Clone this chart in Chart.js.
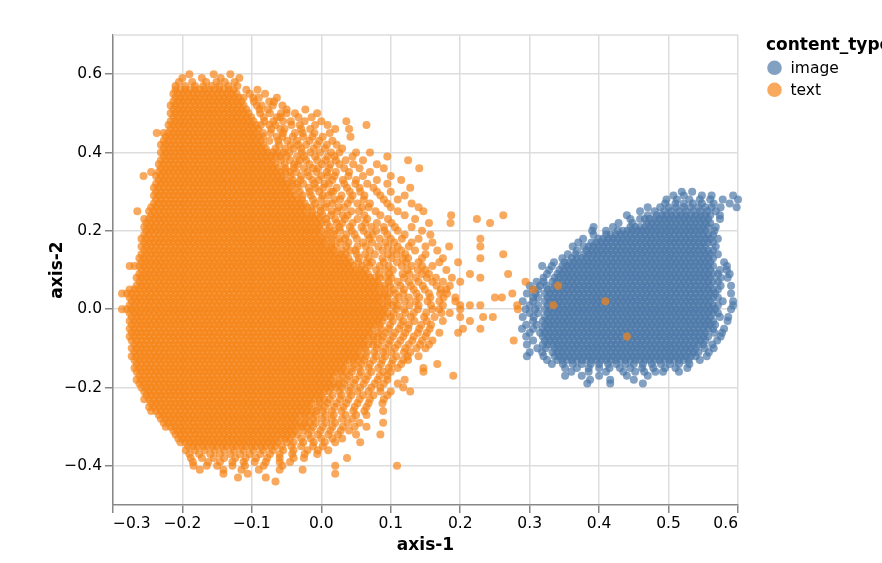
<!DOCTYPE html>
<html>
<head>
<meta charset="utf-8">
<script src="https://cdn.jsdelivr.net/npm/chart.js@4.4.1/dist/chart.umd.min.js"></script>
<style>
  html, body { margin: 0; padding: 0; background: #fff; }
  #chart { display: block; }
</style>
</head>
<body>
<canvas id="chart" width="882" height="563"></canvas>
<script>
// values, in thousandths of an axis unit
// each row: [axis-2, axis-1, axis-1, ...]
const imageRows = [
  [300,519,534],
  [290,507,522,548,562,593],
  [280,497,512,530,545,560,578,600],
  [270,495,510,522,535,548,565,588],
  [260,470,488,500,511,522,532,543,553,562,575,598],
  [250,459,480,494,504,515,525,536,546,556,568],
  [240,440,470,483,490,497,504,511,518,525,532,539,546,553,560,574],
  [230,445,459,466,473,480,487,494,501,508,515,522,529,536,543,550,557,574],
  [220,428,448,469,476,483,490,497,504,511,518,525,532,539,546,553,560],
  [210,392,420,445,452,459,466,473,480,487,494,501,508,515,522,529,536,543,550,557,568],
  [200,390,410,427,434,441,448,455,462,469,476,483,490,497,504,511,518,525,532,539,546,553,566],
  [190,392,410,417,424,431,438,445,452,459,466,473,480,487,494,501,508,515,522,529,536,543,550,557,564],
  [180,377,399,406,413,420,427,434,441,448,455,462,469,476,483,490,497,504,511,518,525,532,539,546,553,560,571],
  [170,370,389,396,403,410,417,424,431,438,445,452,459,466,473,480,487,494,501,508,515,522,529,536,543,550,557,564],
  [160,362,378,385,392,399,406,413,420,427,434,441,448,455,462,469,476,483,490,497,504,511,518,525,532,539,546,553,568],
  [150,368,382,389,396,403,410,417,424,431,438,445,452,459,466,473,480,487,494,501,508,515,522,529,536,543,550,557,564],
  [140,355,366,378,385,392,399,406,413,420,427,434,441,448,455,462,469,476,483,490,497,504,511,518,525,532,539,546,553,560,571],
  [130,347,361,368,375,382,389,396,403,410,417,424,431,438,445,452,459,466,473,480,487,494,501,508,515,522,529,536,543,550,557,564],
  [120,335,350,357,364,371,378,385,392,399,406,413,420,427,434,441,448,455,462,469,476,483,490,497,504,511,518,525,532,539,546,553,560,580],
  [110,318,332,347,354,361,368,375,382,389,396,403,410,417,424,431,438,445,452,459,466,473,480,487,494,501,508,515,522,529,536,543,550,557,564,584],
  [100,328,343,350,357,364,371,378,385,392,399,406,413,420,427,434,441,448,455,462,469,476,483,490,497,504,511,518,525,532,539,546,553,560,574,584],
  [90,325,340,347,354,361,368,375,382,389,396,403,410,417,424,431,438,445,452,459,466,473,480,487,494,501,508,515,522,529,536,543,550,557,564,571,588],
  [80,320,336,343,350,357,364,371,378,385,392,399,406,413,420,427,434,441,448,455,462,469,476,483,490,497,504,511,518,525,532,539,546,553,560,575,585],
  [70,310,320,333,340,347,354,361,368,375,382,389,396,403,410,417,424,431,438,445,452,459,466,473,480,487,494,501,508,515,522,529,536,543,550,557,564,571],
  [60,300,315,324,336,343,350,357,364,371,378,385,392,399,406,413,420,427,434,441,448,455,462,469,476,483,490,497,504,511,518,525,532,539,546,553,560,575,590],
  [50,305,312,326,333,340,347,354,361,368,375,382,389,396,403,410,417,424,431,438,445,452,459,466,473,480,487,494,501,508,515,522,529,536,543,550,557,564,571],
  [40,296,308,322,329,336,343,350,357,364,371,378,385,392,399,406,413,420,427,434,441,448,455,462,469,476,483,490,497,504,511,518,525,532,539,546,553,560,567,590],
  [30,305,312,326,333,340,347,354,361,368,375,382,389,396,403,410,417,424,431,438,445,452,459,466,473,480,487,494,501,508,515,522,529,536,543,550,557,564,571],
  [20,290,305,322,329,336,343,350,357,364,371,378,385,392,399,406,413,420,427,434,441,448,455,462,469,476,483,490,497,504,511,518,525,532,539,546,553,560,578,593],
  [10,300,312,326,333,340,347,354,361,368,375,382,389,396,403,410,417,424,431,438,445,452,459,466,473,480,487,494,501,508,515,522,529,536,543,550,557,564,571,593],
  [0,294,308,322,329,336,343,350,357,364,371,378,385,392,399,406,413,420,427,434,441,448,455,462,469,476,483,490,497,504,511,518,525,532,539,546,553,560,567,590],
  [-10,300,312,326,333,340,347,354,361,368,375,382,389,396,403,410,417,424,431,438,445,452,459,466,473,480,487,494,501,508,515,522,529,536,543,550,557,564,571],
  [-20,290,306,322,329,336,343,350,357,364,371,378,385,392,399,406,413,420,427,434,441,448,455,462,469,476,483,490,497,504,511,518,525,532,539,546,553,560,574,586],
  [-30,305,319,326,333,340,347,354,361,368,375,382,389,396,403,410,417,424,431,438,445,452,459,466,473,480,487,494,501,508,515,522,529,536,543,550,557,564,585],
  [-40,295,310,322,329,336,343,350,357,364,371,378,385,392,399,406,413,420,427,434,441,448,455,462,469,476,483,490,497,504,511,518,525,532,539,546,553,560,567],
  [-50,289,305,319,326,333,340,347,354,361,368,375,382,389,396,403,410,417,424,431,438,445,452,459,466,473,480,487,494,501,508,515,522,529,536,543,550,557,564,580],
  [-60,300,315,322,329,336,343,350,357,364,371,378,385,392,399,406,413,420,427,434,441,448,455,462,469,476,483,490,497,504,511,518,525,532,539,546,553,566,577],
  [-70,295,319,326,333,340,347,354,361,368,375,382,389,396,403,410,417,424,431,438,445,452,459,466,473,480,487,494,501,508,515,522,529,536,543,550,557,575],
  [-80,305,322,329,336,343,350,357,364,371,378,385,392,399,406,413,420,427,434,441,448,455,462,469,476,483,490,497,504,511,518,525,532,539,546,553,570],
  [-90,296,319,326,333,340,347,354,361,368,375,382,389,396,403,410,417,424,431,438,445,452,459,466,473,480,487,494,501,508,515,522,529,536,543,550,563],
  [-100,311,323,336,343,350,357,364,371,378,385,392,399,406,413,420,427,434,441,448,455,462,469,476,483,490,497,504,511,518,525,532,539,552,565],
  [-110,300,318,333,340,347,354,361,368,375,382,389,396,403,410,417,424,431,438,445,452,459,466,473,480,487,494,501,508,515,522,529,536,543,558],
  [-120,296,320,336,343,350,357,364,371,378,385,392,399,406,413,420,427,434,441,448,455,462,469,476,483,490,497,504,511,518,525,532,539,555],
  [-130,325,340,347,354,361,368,375,382,389,396,403,410,417,424,431,438,445,452,459,466,473,480,487,494,501,508,515,522,529,545],
  [-140,332,348,362,375,388,400,413,425,438,450,463,476,489,502,515,530],
  [-150,351,368,385,400,415,430,445,462,478,495,510,527],
  [-160,360,385,410,435,452,465,481,492,515],
  [-170,351,375,400,440,470],
  [-180,387,416,450],
  [-190,383,416,463]
];

const textRows = [
  [600,-190,-155,-131],
  [590,-200,-172,-145,-118],
  [580,-205,-186,-166,-151,-139,-125],
  [570,-210,-196,-182,-170,-158,-147,-134,-121],
  [560,-210,-203,-196,-189,-182,-175,-168,-161,-154,-147,-140,-133,-126,-108,-92],
  [550,-213,-206,-199,-192,-185,-178,-171,-164,-157,-150,-143,-136,-129,-122,-103,-81],
  [540,-210,-203,-196,-189,-182,-175,-168,-161,-154,-147,-140,-133,-126,-119,-112,-98,-90,-64],
  [530,-213,-206,-199,-192,-185,-178,-171,-164,-157,-150,-143,-136,-129,-122,-115,-97,-75,-68],
  [520,-217,-210,-203,-196,-189,-182,-175,-168,-161,-154,-147,-140,-133,-126,-119,-112,-93,-86,-70,-56],
  [510,-213,-206,-199,-192,-185,-178,-171,-164,-157,-150,-143,-136,-129,-122,-115,-108,-89,-77,-50,-23],
  [500,-217,-210,-203,-196,-189,-182,-175,-168,-161,-154,-147,-140,-133,-126,-119,-112,-105,-88,-74,-58,-50,-38,-6],
  [490,-213,-206,-199,-192,-185,-178,-171,-164,-157,-150,-143,-136,-129,-122,-115,-108,-101,-83,-64,-59,-33,-14],
  [480,-217,-210,-203,-196,-189,-182,-175,-168,-161,-154,-147,-140,-133,-126,-119,-112,-105,-98,-82,-69,-55,-44,-24,0,36],
  [470,-220,-213,-206,-199,-192,-185,-178,-171,-164,-157,-150,-143,-136,-129,-122,-115,-108,-101,-94,-87,-75,-66,-43,-31,-9,9,65],
  [460,-217,-210,-203,-196,-189,-182,-175,-168,-161,-154,-147,-140,-133,-126,-119,-112,-105,-98,-91,-72,-59,-53,-29,-16,20,40],
  [450,-237,-227,-220,-213,-206,-199,-192,-185,-178,-171,-164,-157,-150,-143,-136,-129,-122,-115,-108,-101,-94,-84,-73,-55,-38,-27,-10,12],
  [440,-224,-217,-210,-203,-196,-189,-182,-175,-168,-161,-154,-147,-140,-133,-126,-119,-112,-105,-98,-91,-84,-64,-56,-41,-26,-13,2,42],
  [430,-227,-220,-213,-206,-199,-192,-185,-178,-171,-164,-157,-150,-143,-136,-129,-122,-115,-108,-101,-94,-87,-75,-62,-49,-35,-17,-3,16],
  [420,-231,-224,-217,-210,-203,-196,-189,-182,-175,-168,-161,-154,-147,-140,-133,-126,-119,-112,-105,-98,-91,-84,-61,-44,-33,-22,-6,8,22],
  [410,-227,-220,-213,-206,-199,-192,-185,-178,-171,-164,-157,-150,-143,-136,-129,-122,-115,-108,-101,-94,-87,-80,-66,-52,-40,-29,-11,5,30],
  [400,-231,-224,-217,-210,-203,-196,-189,-182,-175,-168,-161,-154,-147,-140,-133,-126,-119,-112,-105,-98,-91,-84,-77,-70,-63,-55,-46,-28,-16,-2,14,26,50,70],
  [390,-227,-220,-213,-206,-199,-192,-185,-178,-171,-164,-157,-150,-143,-136,-129,-122,-115,-108,-101,-94,-87,-80,-73,-66,-59,-50,-35,-25,-9,9,19,45,95],
  [380,-231,-224,-217,-210,-203,-196,-189,-182,-175,-168,-161,-154,-147,-140,-133,-126,-119,-112,-105,-98,-91,-84,-77,-70,-58,-45,-31,-22,-6,6,21,35,60,125],
  [370,-234,-227,-220,-213,-206,-199,-192,-185,-178,-171,-164,-157,-150,-143,-136,-129,-122,-115,-108,-101,-94,-87,-80,-73,-66,-53,-39,-34,-17,1,13,26,46,80],
  [360,-231,-224,-217,-210,-203,-196,-189,-182,-175,-168,-161,-154,-147,-140,-133,-126,-119,-112,-105,-98,-91,-84,-77,-70,-63,-52,-40,-25,-12,-5,11,33,55,90,141],
  [350,-245,-234,-227,-220,-213,-206,-199,-192,-185,-178,-171,-164,-157,-150,-143,-136,-129,-122,-115,-108,-101,-94,-87,-80,-73,-66,-59,-52,-45,-36,-20,-7,8,21,40,70],
  [340,-256,-238,-231,-224,-217,-210,-203,-196,-189,-182,-175,-168,-161,-154,-147,-140,-133,-126,-119,-112,-105,-98,-91,-84,-77,-70,-63,-56,-44,-29,-18,0,9,19,39,60,100],
  [330,-234,-227,-220,-213,-206,-199,-192,-185,-178,-171,-164,-157,-150,-143,-136,-129,-122,-115,-108,-101,-94,-87,-80,-73,-66,-59,-52,-41,-30,-13,-4,16,31,50,80,115],
  [320,-238,-231,-224,-217,-210,-203,-196,-189,-182,-175,-168,-161,-154,-147,-140,-133,-126,-119,-112,-105,-98,-91,-84,-77,-70,-63,-56,-49,-42,-35,-26,-10,5,11,33,49,66,95],
  [310,-241,-234,-227,-220,-213,-206,-199,-192,-185,-178,-171,-164,-157,-150,-143,-136,-129,-122,-115,-108,-101,-94,-87,-80,-73,-66,-59,-52,-45,-34,-18,-8,3,22,37,55,75,128],
  [300,-238,-231,-224,-217,-210,-203,-196,-189,-182,-175,-168,-161,-154,-147,-140,-133,-126,-119,-112,-105,-98,-91,-84,-77,-70,-63,-56,-49,-42,-31,-17,-3,14,17,41,56,80,100],
  [290,-241,-234,-227,-220,-213,-206,-199,-192,-185,-178,-171,-164,-157,-150,-143,-136,-129,-122,-115,-108,-101,-94,-87,-80,-73,-66,-59,-52,-45,-38,-27,-15,2,10,29,45,62,85,120],
  [280,-238,-231,-224,-217,-210,-203,-196,-189,-182,-175,-168,-161,-154,-147,-140,-133,-126,-119,-112,-105,-98,-91,-84,-77,-70,-63,-56,-49,-42,-35,-28,-12,0,19,27,42,61,90,110],
  [270,-241,-234,-227,-220,-213,-206,-199,-192,-185,-178,-171,-164,-157,-150,-143,-136,-129,-122,-115,-108,-101,-94,-87,-80,-73,-66,-59,-52,-45,-38,-31,-24,-9,8,16,38,52,70,95,130],
  [260,-245,-238,-231,-224,-217,-210,-203,-196,-189,-182,-175,-168,-161,-154,-147,-140,-133,-126,-119,-112,-105,-98,-91,-84,-77,-70,-63,-56,-49,-42,-35,-28,-21,-14,-2,6,25,33,59,68,100,140],
  [250,-265,-248,-241,-234,-227,-220,-213,-206,-199,-192,-185,-178,-171,-164,-157,-150,-143,-136,-129,-122,-115,-108,-101,-94,-87,-80,-73,-66,-59,-52,-45,-38,-31,-24,-13,-1,15,23,43,54,78,110,147],
  [240,-245,-238,-231,-224,-217,-210,-203,-196,-189,-182,-175,-168,-161,-154,-147,-140,-133,-126,-119,-112,-105,-98,-91,-84,-77,-70,-63,-56,-49,-42,-35,-28,-21,-14,-7,2,14,31,38,62,85,120,187,262],
  [230,-255,-248,-241,-234,-227,-220,-213,-206,-199,-192,-185,-178,-171,-164,-157,-150,-143,-136,-129,-122,-115,-108,-101,-94,-87,-80,-73,-66,-59,-52,-45,-38,-31,-24,-17,-10,-3,7,20,34,52,66,96,135,224],
  [220,-252,-245,-238,-231,-224,-217,-210,-203,-196,-189,-182,-175,-168,-161,-154,-147,-140,-133,-126,-119,-112,-105,-98,-91,-84,-77,-70,-63,-56,-49,-42,-35,-28,-21,-14,-7,0,8,22,30,45,63,80,101,155,186,243],
  [210,-255,-248,-241,-234,-227,-220,-213,-206,-199,-192,-185,-178,-171,-164,-157,-150,-143,-136,-129,-122,-115,-108,-101,-94,-87,-80,-73,-66,-59,-52,-45,-38,-31,-24,-17,-10,-3,12,26,41,58,72,90,106,130],
  [200,-252,-245,-238,-231,-224,-217,-210,-203,-196,-189,-182,-175,-168,-161,-154,-147,-140,-133,-126,-119,-112,-105,-98,-91,-84,-77,-70,-63,-56,-49,-42,-35,-28,-21,-14,-7,0,9,19,27,44,61,79,91,110,145],
  [190,-255,-248,-241,-234,-227,-220,-213,-206,-199,-192,-185,-178,-171,-164,-157,-150,-143,-136,-129,-122,-115,-108,-101,-94,-87,-80,-73,-66,-59,-52,-45,-38,-31,-24,-17,-10,-3,8,18,36,48,67,74,95,120,157],
  [180,-259,-252,-245,-238,-231,-224,-217,-210,-203,-196,-189,-182,-175,-168,-161,-154,-147,-140,-133,-126,-119,-112,-105,-98,-91,-84,-77,-70,-63,-56,-49,-42,-35,-28,-21,-14,-7,0,7,16,26,34,51,69,84,100,116,140,229],
  [170,-255,-248,-241,-234,-227,-220,-213,-206,-199,-192,-185,-178,-171,-164,-157,-150,-143,-136,-129,-122,-115,-108,-101,-94,-87,-80,-73,-66,-59,-52,-45,-38,-31,-24,-17,-10,-3,4,15,27,39,60,73,92,105,130,160],
  [160,-259,-252,-245,-238,-231,-224,-217,-210,-203,-196,-189,-182,-175,-168,-161,-154,-147,-140,-133,-126,-119,-112,-105,-98,-91,-84,-77,-70,-63,-56,-49,-42,-35,-28,-21,-14,-7,0,7,14,21,36,52,64,82,96,110,126,150,184,229],
  [150,-255,-248,-241,-234,-227,-220,-213,-206,-199,-192,-185,-178,-171,-164,-157,-150,-143,-136,-129,-122,-115,-108,-101,-94,-87,-80,-73,-66,-59,-52,-45,-38,-31,-24,-17,-10,-3,4,11,18,30,41,49,70,88,103,115,135,167],
  [140,-259,-252,-245,-238,-231,-224,-217,-210,-203,-196,-189,-182,-175,-168,-161,-154,-147,-140,-133,-126,-119,-112,-105,-98,-91,-84,-77,-70,-63,-56,-49,-42,-35,-28,-21,-14,-7,0,7,14,21,28,35,51,63,77,96,108,121,150,262],
  [130,-262,-255,-248,-241,-234,-227,-220,-213,-206,-199,-192,-185,-178,-171,-164,-157,-150,-143,-136,-129,-122,-115,-108,-101,-94,-87,-80,-73,-66,-59,-52,-45,-38,-31,-24,-17,-10,-3,4,11,18,25,32,39,54,68,88,101,117,125,145,175,229],
  [120,-259,-252,-245,-238,-231,-224,-217,-210,-203,-196,-189,-182,-175,-168,-161,-154,-147,-140,-133,-126,-119,-112,-105,-98,-91,-84,-77,-70,-63,-56,-49,-42,-35,-28,-21,-14,-7,0,7,14,21,28,35,42,53,65,73,90,109,122,140,170,197],
  [110,-276,-269,-262,-255,-248,-241,-234,-227,-220,-213,-206,-199,-192,-185,-178,-171,-164,-157,-150,-143,-136,-129,-122,-115,-108,-101,-94,-87,-80,-73,-66,-59,-52,-45,-38,-31,-24,-17,-10,-3,4,11,18,25,32,39,46,58,69,84,97,116,130,145,160],
  [100,-259,-252,-245,-238,-231,-224,-217,-210,-203,-196,-189,-182,-175,-168,-161,-154,-147,-140,-133,-126,-119,-112,-105,-98,-91,-84,-77,-70,-63,-56,-49,-42,-35,-28,-21,-14,-7,0,7,14,21,28,35,42,49,56,63,79,92,103,124,139,150,180],
  [90,-262,-255,-248,-241,-234,-227,-220,-213,-206,-199,-192,-185,-178,-171,-164,-157,-150,-143,-136,-129,-122,-115,-108,-101,-94,-87,-80,-73,-66,-59,-52,-45,-38,-31,-24,-17,-10,-3,4,11,18,25,32,39,46,53,60,67,83,98,117,127,145,155,214,269],
  [80,-266,-259,-252,-245,-238,-231,-224,-217,-210,-203,-196,-189,-182,-175,-168,-161,-154,-147,-140,-133,-126,-119,-112,-105,-98,-91,-84,-77,-70,-63,-56,-49,-42,-35,-28,-21,-14,-7,0,7,14,21,28,35,42,49,56,63,70,77,84,93,101,119,136,152,165,188,229],
  [70,-262,-255,-248,-241,-234,-227,-220,-213,-206,-199,-192,-185,-178,-171,-164,-157,-150,-143,-136,-129,-122,-115,-108,-101,-94,-87,-80,-73,-66,-59,-52,-45,-38,-31,-24,-17,-10,-3,4,11,18,25,32,39,46,53,60,67,74,81,97,110,126,140,160,175,200,294],
  [60,-266,-259,-252,-245,-238,-231,-224,-217,-210,-203,-196,-189,-182,-175,-168,-161,-154,-147,-140,-133,-126,-119,-112,-105,-98,-91,-84,-77,-70,-63,-56,-49,-42,-35,-28,-21,-14,-7,0,7,14,21,28,35,42,49,56,63,70,77,84,91,99,114,129,146,166,185,341],
  [50,-276,-269,-262,-255,-248,-241,-234,-227,-220,-213,-206,-199,-192,-185,-178,-171,-164,-157,-150,-143,-136,-129,-122,-115,-108,-101,-94,-87,-80,-73,-66,-59,-52,-45,-38,-31,-24,-17,-10,-3,4,11,18,25,32,39,46,53,60,67,74,81,92,104,119,133,149,172,180,305],
  [40,-287,-280,-273,-266,-259,-252,-245,-238,-231,-224,-217,-210,-203,-196,-189,-182,-175,-168,-161,-154,-147,-140,-133,-126,-119,-112,-105,-98,-91,-84,-77,-70,-63,-56,-49,-42,-35,-28,-21,-14,-7,0,7,14,21,28,35,42,49,56,63,70,77,84,91,98,107,118,137,155,171,181,275],
  [30,-276,-269,-262,-255,-248,-241,-234,-227,-220,-213,-206,-199,-192,-185,-178,-171,-164,-157,-150,-143,-136,-129,-122,-115,-108,-101,-94,-87,-80,-73,-66,-59,-52,-45,-38,-31,-24,-17,-10,-3,4,11,18,25,32,39,46,53,60,67,74,81,88,95,111,126,141,157,176,193,250,260],
  [20,-273,-266,-259,-252,-245,-238,-231,-224,-217,-210,-203,-196,-189,-182,-175,-168,-161,-154,-147,-140,-133,-126,-119,-112,-105,-98,-91,-84,-77,-70,-63,-56,-49,-42,-35,-28,-21,-14,-7,0,7,14,21,28,35,42,49,56,63,70,77,84,95,106,120,136,153,170,193,409],
  [10,-276,-269,-262,-255,-248,-241,-234,-227,-220,-213,-206,-199,-192,-185,-178,-171,-164,-157,-150,-143,-136,-129,-122,-115,-108,-101,-94,-87,-80,-73,-66,-59,-52,-45,-38,-31,-24,-17,-10,-3,4,11,18,25,32,39,46,53,60,67,74,81,88,95,102,110,127,140,158,175,200,214,229,282,334],
  [0,-287,-280,-273,-266,-259,-252,-245,-238,-231,-224,-217,-210,-203,-196,-189,-182,-175,-168,-161,-154,-147,-140,-133,-126,-119,-112,-105,-98,-91,-84,-77,-70,-63,-56,-49,-42,-35,-28,-21,-14,-7,0,7,14,21,28,35,42,49,56,63,70,77,84,91,108,119,139,160,170,200,283],
  [-10,-276,-269,-262,-255,-248,-241,-234,-227,-220,-213,-206,-199,-192,-185,-178,-171,-164,-157,-150,-143,-136,-129,-122,-115,-108,-101,-94,-87,-80,-73,-66,-59,-52,-45,-38,-31,-24,-17,-10,-3,4,11,18,25,32,39,46,53,60,67,74,81,88,95,104,121,133,151,173,185],
  [-20,-273,-266,-259,-252,-245,-238,-231,-224,-217,-210,-203,-196,-189,-182,-175,-168,-161,-154,-147,-140,-133,-126,-119,-112,-105,-98,-91,-84,-77,-70,-63,-56,-49,-42,-35,-28,-21,-14,-7,0,7,14,21,28,35,42,49,56,63,70,77,84,91,100,113,129,148,163,200,233,247],
  [-30,-276,-269,-262,-255,-248,-241,-234,-227,-220,-213,-206,-199,-192,-185,-178,-171,-164,-157,-150,-143,-136,-129,-122,-115,-108,-101,-94,-87,-80,-73,-66,-59,-52,-45,-38,-31,-24,-17,-10,-3,4,11,18,25,32,39,46,53,60,67,74,81,88,103,118,134,152,175,214],
  [-40,-273,-266,-259,-252,-245,-238,-231,-224,-217,-210,-203,-196,-189,-182,-175,-168,-161,-154,-147,-140,-133,-126,-119,-112,-105,-98,-91,-84,-77,-70,-63,-56,-49,-42,-35,-28,-21,-14,-7,0,7,14,21,28,35,42,49,56,63,70,77,84,99,115,126,144,158],
  [-50,-276,-269,-262,-255,-248,-241,-234,-227,-220,-213,-206,-199,-192,-185,-178,-171,-164,-157,-150,-143,-136,-129,-122,-115,-108,-101,-94,-87,-80,-73,-66,-59,-52,-45,-38,-31,-24,-17,-10,-3,4,11,18,25,32,39,46,53,60,67,74,86,97,112,125,141,156,204,229],
  [-60,-273,-266,-259,-252,-245,-238,-231,-224,-217,-210,-203,-196,-189,-182,-175,-168,-161,-154,-147,-140,-133,-126,-119,-112,-105,-98,-91,-84,-77,-70,-63,-56,-49,-42,-35,-28,-21,-14,-7,0,7,14,21,28,35,42,49,56,63,70,82,93,106,121,139,152,170,197],
  [-70,-276,-269,-262,-255,-248,-241,-234,-227,-220,-213,-206,-199,-192,-185,-178,-171,-164,-157,-150,-143,-136,-129,-122,-115,-108,-101,-94,-87,-80,-73,-66,-59,-52,-45,-38,-31,-24,-17,-10,-3,4,11,18,25,32,39,46,53,60,67,74,81,89,103,118,133,150,440],
  [-80,-273,-266,-259,-252,-245,-238,-231,-224,-217,-210,-203,-196,-189,-182,-175,-168,-161,-154,-147,-140,-133,-126,-119,-112,-105,-98,-91,-84,-77,-70,-63,-56,-49,-42,-35,-28,-21,-14,-7,0,7,14,21,28,35,42,49,56,63,75,87,99,114,131,145,160,277],
  [-90,-269,-262,-255,-248,-241,-234,-227,-220,-213,-206,-199,-192,-185,-178,-171,-164,-157,-150,-143,-136,-129,-122,-115,-108,-101,-94,-87,-80,-73,-66,-59,-52,-45,-38,-31,-24,-17,-10,-3,4,11,18,25,32,39,46,53,60,67,74,82,97,110,126,142,155],
  [-100,-273,-266,-259,-252,-245,-238,-231,-224,-217,-210,-203,-196,-189,-182,-175,-168,-161,-154,-147,-140,-133,-126,-119,-112,-105,-98,-91,-84,-77,-70,-63,-56,-49,-42,-35,-28,-21,-14,-7,0,7,14,21,28,35,42,49,56,63,80,92,106,121,137,150],
  [-110,-269,-262,-255,-248,-241,-234,-227,-220,-213,-206,-199,-192,-185,-178,-171,-164,-157,-150,-143,-136,-129,-122,-115,-108,-101,-94,-87,-80,-73,-66,-59,-52,-45,-38,-31,-24,-17,-10,-3,4,11,18,25,32,39,46,53,65,76,89,101,119,128],
  [-120,-273,-266,-259,-252,-245,-238,-231,-224,-217,-210,-203,-196,-189,-182,-175,-168,-161,-154,-147,-140,-133,-126,-119,-112,-105,-98,-91,-84,-77,-70,-63,-56,-49,-42,-35,-28,-21,-14,-7,0,7,14,21,28,35,42,49,56,64,79,92,108,124,140],
  [-130,-269,-262,-255,-248,-241,-234,-227,-220,-213,-206,-199,-192,-185,-178,-171,-164,-157,-150,-143,-136,-129,-122,-115,-108,-101,-94,-87,-80,-73,-66,-59,-52,-45,-38,-31,-24,-17,-10,-3,4,11,18,25,32,39,46,53,62,75,88,103,118,125],
  [-140,-266,-259,-252,-245,-238,-231,-224,-217,-210,-203,-196,-189,-182,-175,-168,-161,-154,-147,-140,-133,-126,-119,-112,-105,-98,-91,-84,-77,-70,-63,-56,-49,-42,-35,-28,-21,-14,-7,0,7,14,21,28,35,47,58,70,86,101,115,167],
  [-150,-269,-262,-255,-248,-241,-234,-227,-220,-213,-206,-199,-192,-185,-178,-171,-164,-157,-150,-143,-136,-129,-122,-115,-108,-101,-94,-87,-80,-73,-66,-59,-52,-45,-38,-31,-24,-17,-10,-3,4,11,18,25,32,44,54,68,82,97,110,147],
  [-160,-266,-259,-252,-245,-238,-231,-224,-217,-210,-203,-196,-189,-182,-175,-168,-161,-154,-147,-140,-133,-126,-119,-112,-105,-98,-91,-84,-77,-70,-63,-56,-49,-42,-35,-28,-21,-14,-7,0,7,14,21,28,35,44,57,72,89,100,147],
  [-170,-262,-255,-248,-241,-234,-227,-220,-213,-206,-199,-192,-185,-178,-171,-164,-157,-150,-143,-136,-129,-122,-115,-108,-101,-94,-87,-80,-73,-66,-59,-52,-45,-38,-31,-24,-17,-10,-3,4,11,18,30,40,55,67,84,95,190],
  [-180,-266,-259,-252,-245,-238,-231,-224,-217,-210,-203,-196,-189,-182,-175,-168,-161,-154,-147,-140,-133,-126,-119,-112,-105,-98,-91,-84,-77,-70,-63,-56,-49,-42,-35,-28,-21,-14,-7,0,7,14,26,37,49,64,81,95,120],
  [-190,-262,-255,-248,-241,-234,-227,-220,-213,-206,-199,-192,-185,-178,-171,-164,-157,-150,-143,-136,-129,-122,-115,-108,-101,-94,-87,-80,-73,-66,-59,-52,-45,-38,-31,-24,-17,-10,-3,4,11,18,25,33,47,61,77,90,110],
  [-200,-259,-252,-245,-238,-231,-224,-217,-210,-203,-196,-189,-182,-175,-168,-161,-154,-147,-140,-133,-126,-119,-112,-105,-98,-91,-84,-77,-70,-63,-56,-49,-42,-35,-28,-21,-14,-7,0,7,14,21,30,42,56,72,85,118],
  [-210,-255,-248,-241,-234,-227,-220,-213,-206,-199,-192,-185,-178,-171,-164,-157,-150,-143,-136,-129,-122,-115,-108,-101,-94,-87,-80,-73,-66,-59,-52,-45,-38,-31,-24,-17,-10,-3,4,11,26,40,52,68,85,100,128],
  [-220,-252,-245,-238,-231,-224,-217,-210,-203,-196,-189,-182,-175,-168,-161,-154,-147,-140,-133,-126,-119,-112,-105,-98,-91,-84,-77,-70,-63,-56,-49,-42,-35,-28,-21,-14,-7,0,16,29,43,60,75,95],
  [-230,-255,-248,-241,-234,-227,-220,-213,-206,-199,-192,-185,-178,-171,-164,-157,-150,-143,-136,-129,-122,-115,-108,-101,-94,-87,-80,-73,-66,-59,-52,-45,-38,-31,-24,-17,-10,-3,4,12,27,39,55,70,90],
  [-240,-245,-238,-231,-224,-217,-210,-203,-196,-189,-182,-175,-168,-161,-154,-147,-140,-133,-126,-119,-112,-105,-98,-91,-84,-77,-70,-63,-56,-49,-42,-35,-28,-21,-14,-2,9,22,36,52,68,88],
  [-250,-248,-241,-234,-227,-220,-213,-206,-199,-192,-185,-178,-171,-164,-157,-150,-143,-136,-129,-122,-115,-108,-101,-94,-87,-80,-73,-66,-59,-52,-45,-38,-31,-24,-17,-5,5,19,32,48,65],
  [-260,-245,-238,-231,-224,-217,-210,-203,-196,-189,-182,-175,-168,-161,-154,-147,-140,-133,-126,-119,-112,-105,-98,-91,-84,-77,-70,-63,-56,-49,-42,-35,-28,-21,-14,-7,2,15,29,46,62,89],
  [-270,-234,-227,-220,-213,-206,-199,-192,-185,-178,-171,-164,-157,-150,-143,-136,-129,-122,-115,-108,-101,-94,-87,-80,-73,-66,-59,-52,-45,-38,-31,-24,-17,-8,6,18,35,50,65],
  [-280,-231,-224,-217,-210,-203,-196,-189,-182,-175,-168,-161,-154,-147,-140,-133,-126,-119,-112,-105,-98,-91,-84,-77,-70,-63,-56,-49,-42,-35,-23,-12,1,15,30,45],
  [-290,-227,-220,-213,-206,-199,-192,-185,-178,-171,-164,-157,-150,-143,-136,-129,-122,-115,-108,-101,-94,-87,-80,-73,-66,-59,-52,-45,-38,-31,-24,-17,-8,7,20,38,55,89],
  [-300,-224,-217,-210,-203,-196,-189,-182,-175,-168,-161,-154,-147,-140,-133,-126,-119,-112,-105,-98,-91,-84,-77,-70,-63,-56,-49,-42,-35,-28,-21,-12,2,16,31,48,65],
  [-310,-213,-206,-199,-192,-185,-178,-171,-164,-157,-150,-143,-136,-129,-122,-115,-108,-101,-94,-87,-80,-73,-66,-59,-52,-45,-38,-26,-15,-1,13,28,40],
  [-320,-210,-203,-196,-189,-182,-175,-168,-161,-154,-147,-140,-133,-126,-119,-112,-105,-98,-91,-84,-77,-70,-63,-56,-49,-42,-35,-19,-5,10,24,50,85],
  [-330,-206,-199,-192,-185,-178,-171,-164,-157,-150,-143,-136,-129,-122,-115,-108,-101,-94,-87,-80,-73,-66,-59,-52,-45,-29,-15,0,16,30],
  [-340,-203,-196,-189,-182,-175,-168,-161,-154,-147,-140,-133,-126,-119,-112,-105,-98,-91,-84,-77,-70,-63,-50,-40,-26,-11,5,20,56],
  [-350,-192,-185,-178,-171,-164,-157,-150,-143,-136,-129,-122,-115,-108,-101,-94,-87,-80,-73,-66,-57,-43,-29,-12,2],
  [-360,-195,-182,-168,-154,-140,-126,-112,-98,-84,-70,-55,-40,-20,-5,10],
  [-370,-190,-176,-160,-146,-131,-117,-103,-88,-74,-60,-42,-24,-6],
  [-380,-188,-172,-155,-140,-124,-109,-94,-78,-60,-40,-25,37],
  [-390,-185,-163,-146,-128,-112,-96,-80,-60,-45],
  [-400,-184,-165,-150,-128,-110,-83,-56,20,109],
  [-410,-175,-141,-115,-90,-60,-27],
  [-420,-141,-106,20],
  [-430,-120,-80],
  [-440,-66]
];

const seriesNames = ['image', 'text'];
const xTicks = [-0.3, -0.2, -0.1, 0.0, 0.1, 0.2, 0.3, 0.4, 0.5, 0.6];
const yTicks = [-0.4, -0.2, 0.0, 0.2, 0.4, 0.6];

var FONT = '"DejaVu Sans", "Liberation Sans", sans-serif';
var colors = ['rgba(76, 120, 168, 0.7)', 'rgba(245, 133, 24, 0.7)'];

// turn the rows into {x, y} points
function rowsToPoints(rows) {
  var pts = [];
  rows.forEach(function (row) {
    for (var i = 1; i < row.length; i++) {
      pts.push({ x: row[i] / 1000, y: row[0] / 1000 });
    }
  });
  return pts;
}

// vega style labels with a real minus sign
function fmt(v) {
  return v.toFixed(1).replace('-', '\u2212');
}

// top edge of the view box plus the legend on the right
var viewPlugin = {
  id: 'view',
  beforeDatasetsDraw: function (chart) {
    var a = chart.chartArea, ctx = chart.ctx;
    ctx.save();
    ctx.strokeStyle = '#ddd';
    ctx.lineWidth = 1.5;
    ctx.beginPath();
    ctx.moveTo(a.left, a.top);
    ctx.lineTo(a.right, a.top);
    ctx.stroke();
    ctx.restore();
  },
  afterDraw: function (chart) {
    var ctx = chart.ctx;
    ctx.save();
    ctx.fillStyle = '#000';
    ctx.textAlign = 'left';
    ctx.textBaseline = 'alphabetic';
    ctx.font = 'bold 17px ' + FONT;
    ctx.fillText('content_type', 766, 50);
    seriesNames.forEach(function (name, i) {
      var cy = 67.8 + i * 22;
      ctx.fillStyle = colors[i];
      ctx.beginPath();
      ctx.arc(774.5, cy, 7.3, 0, Math.PI * 2);
      ctx.fill();
      ctx.fillStyle = '#000';
      ctx.font = '15.5px ' + FONT;
      ctx.fillText(name, 790.5, cy + 5);
    });
    ctx.restore();
  }
};

var ctx = document.getElementById('chart').getContext('2d');
var chart = new Chart(ctx, {
  type: 'scatter',
  data: {
    datasets: [{
      label: seriesNames[0],
      data: rowsToPoints(imageRows),
      backgroundColor: colors[0],
      order: 1,
      clip: false
    }, {
      label: seriesNames[1],
      data: rowsToPoints(textRows),
      backgroundColor: colors[1],
      order: 0, // text marks sit above the image marks
      clip: false
    }]
  },
  options: {
    responsive: false,
    animation: false,
    events: [],
    layout: { padding: { top: 35, right: 144, left: 0, bottom: 0 } },
    elements: {
      point: { radius: 4, hoverRadius: 4, borderWidth: 0 }
    },
    plugins: {
      legend: { display: false },
      tooltip: { enabled: false }
    },
    scales: {
      x: {
        type: 'linear',
        min: -0.3,
        max: 0.6,
        afterBuildTicks: function (s) { s.ticks = xTicks.map(function (v) { return { value: v }; }); },
        afterFit: function (s) { s.height = 58; },
        grid: { color: '#ddd', lineWidth: 1.5, tickColor: '#888', tickLength: 8, tickWidth: 1.5 },
        border: { color: '#888', width: 1.5 },
        ticks: {
          align: 'inner',
          autoSkip: false,
          maxRotation: 0,
          padding: 2,
          color: '#000',
          font: { family: FONT, size: 15.5 },
          callback: function (v) { return fmt(v); }
        },
        title: {
          display: true,
          text: 'axis-1',
          color: '#000',
          font: { family: FONT, size: 17, weight: 'bold' },
          padding: { top: 0, bottom: 7 }
        }
      },
      y: {
        type: 'linear',
        min: -0.5,
        max: 0.7,
        afterBuildTicks: function (s) { s.ticks = yTicks.map(function (v) { return { value: v }; }); },
        afterFit: function (s) { s.width = 113; },
        grid: { color: '#ddd', lineWidth: 1.5, tickColor: '#888', tickLength: 8, tickWidth: 1.5 },
        border: { color: '#888', width: 1.5 },
        ticks: {
          padding: 3,
          color: '#000',
          font: { family: FONT, size: 15.5 },
          callback: function (v) { return fmt(v); }
        },
        title: {
          display: true,
          text: 'axis-2',
          color: '#000',
          font: { family: FONT, size: 17, weight: 'bold' },
          padding: { top: 47, bottom: 0 }
        }
      }
    }
  },
  plugins: [viewPlugin]
});
</script>
</body>
</html>
